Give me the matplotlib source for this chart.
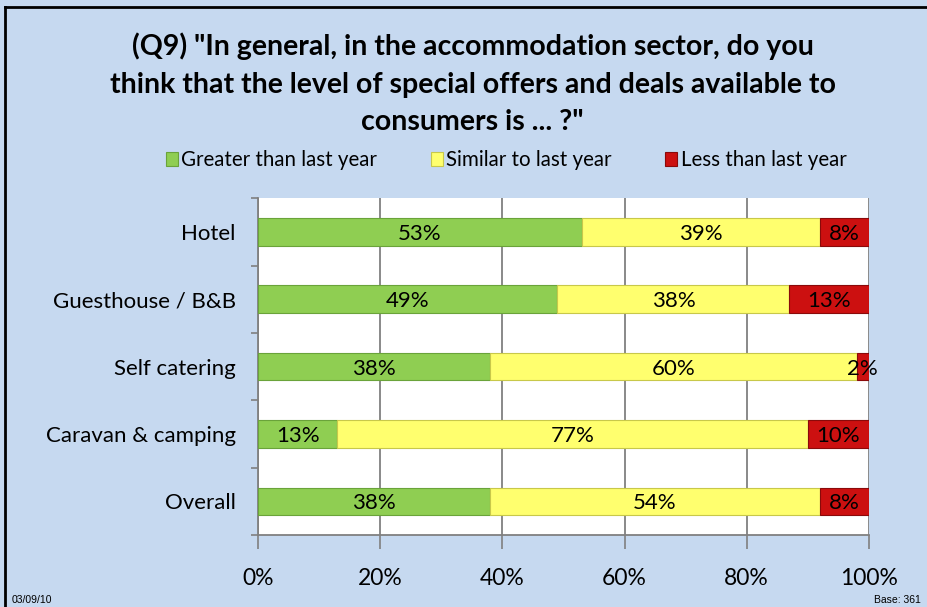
import numpy as np
import matplotlib.pyplot as plt
from matplotlib.lines import Line2D

categories = ["Hotel", "Guesthouse / B&B", "Self catering", "Caravan & camping", "Overall"]
greater = [53, 49, 38, 13, 38]
similar = [39, 38, 60, 77, 54]
less = [8, 13, 2, 10, 8]
series_names = ["Greater than last year", "Similar to last year", "Less than last year"]
colors = ["#8fce52", "#ffff6e", "#cc1010"]
edges = ["#6aa33a", "#c8c84a", "#8a0a0a"]

plt.rcParams['font.family'] = ['Lato', 'DejaVu Sans']

fig = plt.figure(figsize=(9.27, 6.07), dpi=100)
fig.patch.set_facecolor("#c6d9f0")

# black frame on top and left
fig.add_artist(Line2D([0.0055, 1.0], [0.989, 0.989], color="black", lw=2.0))
fig.add_artist(Line2D([0.0055, 0.0055], [0.0, 0.989], color="black", lw=2.0))

ax = fig.add_axes([0.2783, 0.1186, 0.659, 0.555])
ax.set_facecolor("white")

y = np.arange(len(categories))
left = np.zeros(len(categories))
for vals, name, c, ec in zip([greater, similar, less], series_names, colors, edges):
    vals = np.array(vals, dtype=float)
    bars = ax.barh(y, vals, left=left, height=0.41, color=c, edgecolor=ec,
                   linewidth=0.8, label=name, zorder=3)
    for yi, l, v in zip(y, left, vals):
        ax.text(l + v / 2, yi + 0.03, f"{int(v)}%", ha="center", va="center",
                fontsize=16, color="black", zorder=4)
    left += vals

ax.set_xlim(0, 100)
ax.set_ylim(len(categories) - 0.5, -0.5)
ax.set_xticks(np.arange(0, 101, 20))
ax.set_xticklabels([f"{v}%" for v in range(0, 101, 20)], fontsize=16.5)
ax.set_yticks(y)
ax.set_yticklabels(categories, fontsize=16)
ax.set_yticks(np.arange(len(categories) + 1) - 0.5, minor=True)
ax.tick_params(axis="y", which="major", length=0, pad=16)
ax.tick_params(axis="y", which="minor", length=5, color="#808080", width=1.2)
ax.tick_params(axis="x", length=10, color="#808080", width=1.2, pad=14)
ax.grid(axis="x", color="#808080", lw=1.3, zorder=1)
for s in ["top", "right"]:
    ax.spines[s].set_visible(False)
for s in ["left", "bottom"]:
    ax.spines[s].set_color("#808080")
    ax.spines[s].set_linewidth(1.3)

fig.text(0.51, 0.862, '(Q9) "In general, in the accommodation sector, do you\n'
         'think that the level of special offers and deals available to\n'
         'consumers is ... ?"', ha="center", va="center", fontsize=20.5,
         fontweight="bold", linespacing=1.55)

ax.legend(loc="center", bbox_to_anchor=(0.546, 0.736), bbox_transform=fig.transFigure,
          ncol=3, frameon=False, fontsize=14.8, handlelength=0.6, handleheight=0.6,
          handletextpad=0.15, columnspacing=2.6)

fig.text(0.013, 0.006, "03/09/10", fontsize=7.5, family="Liberation Sans")
fig.text(0.993, 0.006, "Base: 361", fontsize=7.5, family="Liberation Sans", ha="right")

fig.savefig("out.png", dpi=100, facecolor=fig.get_facecolor())
